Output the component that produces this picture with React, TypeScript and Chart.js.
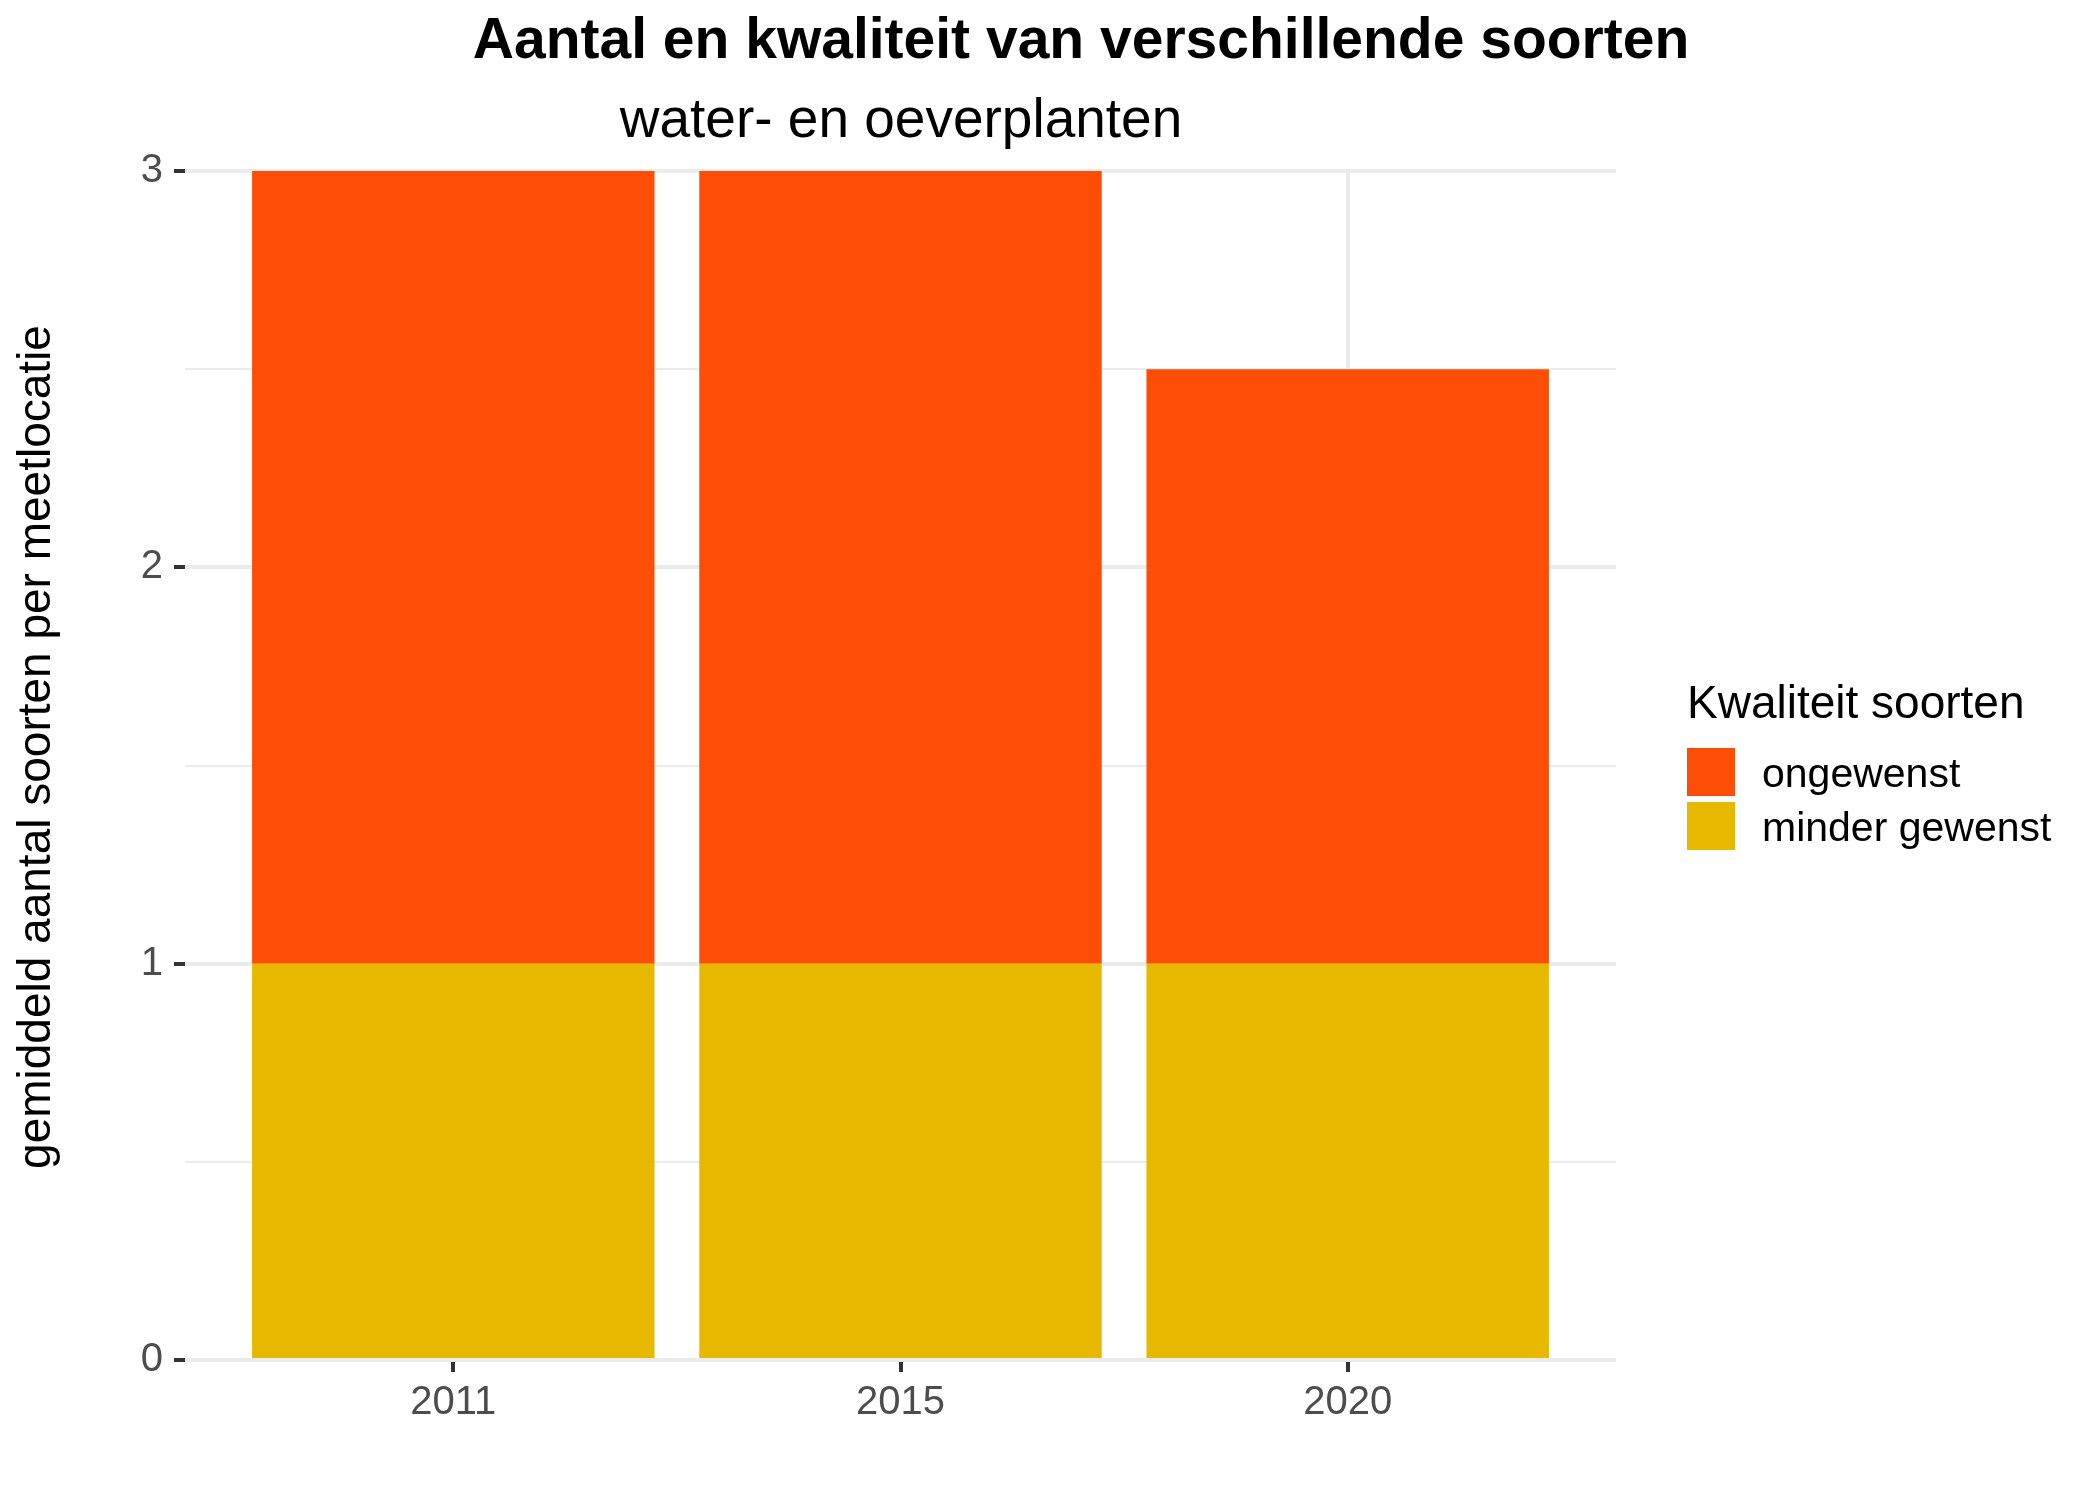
import React, { useEffect, useRef } from "react";
import { Chart, registerables } from "chart.js";

Chart.register(...registerables);

// ---- data ----
const years = ["2011", "2015", "2020"];
const minderGewenst = [1, 1, 1];
const ongewenst = [2, 2, 1.5];
const seriesNames = ["minder gewenst", "ongewenst"];
const seriesColors = ["#E7B800", "#FC4E07"];
const yTickValues = [0, 0.5, 1, 1.5, 2, 2.5, 3];

const titleText = "Aantal en kwaliteit van verschillende soorten";
const subtitleText = "water- en oeverplanten";
const yTitleText = "gemiddeld aantal soorten per meetlocatie";
const legendTitleText = "Kwaliteit soorten";

const FONT = "'Liberation Sans', Arial, sans-serif";

const annotations = {
  id: "annotations",
  afterDraw(chart: any) {
    const ctx = chart.ctx;
    ctx.save();
    ctx.fillStyle = "#000000";
    ctx.textBaseline = "alphabetic";
    // title
    ctx.font = `bold 57px ${FONT}`;
    ctx.textAlign = "center";
    ctx.fillText(titleText, 1081, 58);
    // subtitle
    ctx.font = `55px ${FONT}`;
    ctx.fillText(subtitleText, 901, 137);
    // y axis title
    ctx.save();
    ctx.translate(50, 747);
    ctx.rotate(-Math.PI / 2);
    ctx.font = `46px ${FONT}`;
    ctx.textAlign = "center";
    ctx.fillText(yTitleText, 0, 0);
    ctx.restore();
    // legend
    ctx.textAlign = "left";
    ctx.font = `46px ${FONT}`;
    ctx.fillText(legendTitleText, 1687, 718);
    const ds = chart.data.datasets;
    const order = ds.map((_: any, i: number) => i).reverse();
    order.forEach((di: number, k: number) => {
      const top = 748 + k * 54;
      ctx.fillStyle = ds[di].backgroundColor;
      ctx.fillRect(1687, top, 48, 48);
      ctx.fillStyle = "#000000";
      ctx.font = `41px ${FONT}`;
      ctx.fillText(ds[di].label, 1762, top + 39);
    });
    ctx.restore();
  },
};

export default function App() {
  const ref = useRef<HTMLCanvasElement | null>(null);

  useEffect(() => {
    if (!ref.current) return;
    const chart = new Chart(ref.current, {
      type: "bar",
      data: {
        datasets: [
          {
            label: seriesNames[0],
            data: minderGewenst.map((v, i) => ({ x: i + 1, y: v })),
            backgroundColor: seriesColors[0],
            borderWidth: 0,
          },
          {
            label: seriesNames[1],
            data: ongewenst.map((v, i) => ({ x: i + 1, y: v })),
            backgroundColor: seriesColors[1],
            borderWidth: 0,
          },
        ],
      },
      options: {
        responsive: false,
        devicePixelRatio: 1,
        animation: false,
        events: [],
        barPercentage: 0.9,
        categoryPercentage: 1,
        layout: { padding: { top: 171, right: 484, bottom: 0, left: 0 } },
        plugins: {
          legend: { display: false },
          title: { display: false },
          tooltip: { enabled: false },
        },
        scales: {
          x: {
            type: "linear",
            stacked: true,
            offset: false,
            min: 0.4,
            max: 3.6,
            afterBuildTicks: (scale: any) => {
              scale.ticks = years.map((_, i) => ({ value: i + 1 }));
            },
            afterFit: (scale: any) => {
              scale.height = 140;
            },
            border: { display: false },
            grid: {
              offset: false,
              color: "#EBEBEB",
              lineWidth: 4,
              drawTicks: true,
              tickLength: 12,
              tickColor: "#333333",
              tickWidth: 4,
            },
            ticks: {
              color: "#4D4D4D",
              font: { family: FONT, size: 40 },
              padding: 7,
              maxRotation: 0,
              autoSkip: false,
              callback: (value: any) => years[Math.round(Number(value)) - 1] ?? "",
            },
          },
          y: {
            type: "linear",
            stacked: true,
            min: 0,
            max: 3,
            afterBuildTicks: (scale: any) => {
              scale.ticks = yTickValues.map((v) => ({ value: v }));
            },
            afterFit: (scale: any) => {
              scale.width = 185;
            },
            border: { display: false },
            grid: {
              color: "#EBEBEB",
              lineWidth: (c: any) => (Number.isInteger(c.tick?.value) ? 4 : 2),
              drawTicks: true,
              tickLength: 11,
              tickColor: (c: any) =>
                Number.isInteger(c.tick?.value) ? "#333333" : "rgba(0,0,0,0)",
              tickWidth: 4,
            },
            ticks: {
              color: "#4D4D4D",
              font: { family: FONT, size: 40 },
              padding: 11,
              autoSkip: false,
              callback: (value: any) =>
                Number.isInteger(Number(value)) ? String(value) : "",
            },
          },
        },
      },
      plugins: [annotations],
    });
    return () => chart.destroy();
  }, []);

  return (
    <div style={{ position: "absolute", left: 0, top: 0, width: 2100, height: 1500, background: "#ffffff" }}>
      <canvas ref={ref} width={2100} height={1500} style={{ display: "block" }} />
    </div>
  );
}
